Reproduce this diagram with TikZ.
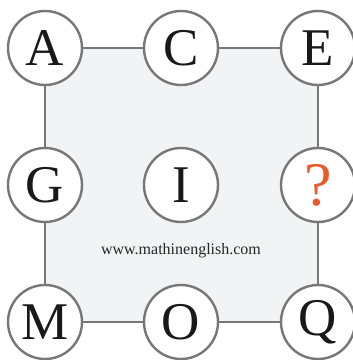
\documentclass[tikz,border=0pt]{standalone}
\usepackage{fontspec}
\setmainfont{Liberation Serif}
\definecolor{edgegray}{HTML}{777777}
\definecolor{panel}{HTML}{F2F3F5}
\definecolor{qorange}{HTML}{EB5A2A}
\begin{document}
\begin{tikzpicture}[x=1pt,y=1pt,
  letter/.style={circle,draw=edgegray,line width=2.4pt,fill=white,minimum size=74pt,inner sep=0pt,
    font=\fontsize{53}{53}\selectfont,text=black!90},
  link/.style={draw=edgegray,line width=2.4pt}]
\useasboundingbox (0,0) rectangle (353,360);
\fill[panel] (45,38) rectangle (318,312);
\node[letter] (A) at (45,312) {A};
\node[letter] (C) at (181,312) {C};
\node[letter] (E) at (318,312) {E};
\node[letter] (G) at (45,175) {G};
\node[letter] (I) at (181,175) {I};
\node[letter,text=qorange,font=\fontsize{62}{62}\selectfont] (Q1) at (318,175) {?};
\node[letter] (M) at (45,38) {M};
\node[letter] (O) at (181,38) {O};
\node[letter] (Q) at (318,38) {Q};
\path[link] (A) -- (C);
\path[link] (C) -- (E);
\path[link] (E) -- (Q1);
\path[link] (Q1) -- (Q);
\path[link] (Q) -- (O);
\path[link] (O) -- (M);
\path[link] (M) -- (G);
\path[link] (G) -- (A);
\node[font=\fontsize{16}{18}\selectfont,text=black!85] (url) at (181,109) {www.mathinenglish.com};
\end{tikzpicture}
\end{document}
